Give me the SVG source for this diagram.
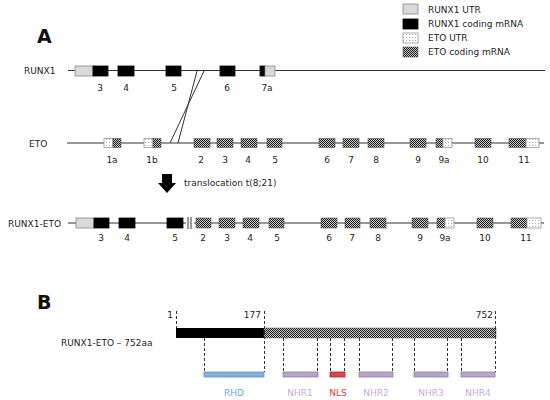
<svg xmlns="http://www.w3.org/2000/svg" width="550" height="400" viewBox="0 0 550 400">
<defs>
<pattern id="chk" width="2" height="2" patternUnits="userSpaceOnUse"><rect width="2" height="2" fill="#c8c8c8"/><rect width="1" height="1" fill="#1a1a1a"/><rect x="1" y="1" width="1" height="1" fill="#1a1a1a"/></pattern>
<pattern id="dot" width="3" height="3" patternUnits="userSpaceOnUse"><rect width="3" height="3" fill="#fff"/><rect x="1" y="1" width="1" height="1" fill="#aaa"/></pattern>
<style>
text{font-family:"DejaVu Sans","Verdana",sans-serif;font-size:9px;fill:#222}
.lbl{text-anchor:middle}
.big{font-size:19px;font-weight:bold;fill:#111}
.ln{stroke:#333;stroke-width:1;fill:none}
.utr{fill:#d9d9d9;stroke:#888;stroke-width:0.8}
.cod{fill:#000;stroke:#000;stroke-width:0.8}
.eu{fill:url(#dot);stroke:#999;stroke-width:0.8}
.ec{fill:url(#chk);stroke:#555;stroke-width:0.6}
.dash{stroke:#333;stroke-width:1;stroke-dasharray:3,2;fill:none}
</style>
</defs>
<rect width="550" height="400" fill="#fff"/>

<g id="legend">
<rect x="403" y="4" width="15" height="10" class="utr"/><text x="428" y="13">RUNX1 UTR</text>
<rect x="403" y="19" width="15" height="10" class="cod"/><text x="428" y="27">RUNX1 coding mRNA</text>
<rect x="403" y="33" width="15" height="10" class="eu"/><text x="428" y="41">ETO UTR</text>
<rect x="403" y="47" width="15" height="10" class="ec"/><text x="428" y="55">ETO coding mRNA</text>
</g>

<text x="37" y="43" class="big">A</text>
<text x="37" y="309" class="big">B</text>

<g id="runx1">
<text x="24" y="74">RUNX1</text>
<line x1="68" y1="70.5" x2="545" y2="70.5" class="ln"/>
<rect x="75" y="66" width="18" height="10" class="utr"/>
<rect x="93" y="66" width="15" height="10" class="cod"/>
<rect x="118" y="66" width="16" height="10" class="cod"/>
<rect x="166" y="66" width="15" height="10" class="cod"/>
<rect x="220" y="66" width="15" height="10" class="cod"/>
<rect x="260" y="66" width="5" height="10" class="cod"/>
<rect x="265" y="66" width="10" height="10" class="utr"/>
<text x="100" y="91" class="lbl">3</text>
<text x="126" y="91" class="lbl">4</text>
<text x="174" y="91" class="lbl">5</text>
<text x="227" y="91" class="lbl">6</text>
<text x="267" y="91" class="lbl">7a</text>
</g>

<g id="eto">
<text x="29" y="147">ETO</text>
<line x1="67" y1="143" x2="544" y2="143" class="ln"/>
<rect x="104" y="138.5" width="9" height="9" class="eu"/><rect x="113" y="138.5" width="8" height="9" class="ec"/>
<rect x="144" y="138.5" width="9" height="9" class="eu"/><rect x="153" y="138.5" width="8" height="9" class="ec"/>
<rect x="194" y="138.5" width="16" height="9" class="ec"/>
<rect x="217" y="138.5" width="16" height="9" class="ec"/>
<rect x="241" y="138.5" width="16" height="9" class="ec"/>
<rect x="267" y="138.5" width="15" height="9" class="ec"/>
<rect x="319" y="138.5" width="16" height="9" class="ec"/>
<rect x="343" y="138.5" width="16" height="9" class="ec"/>
<rect x="368" y="138.5" width="16" height="9" class="ec"/>
<rect x="410" y="138.5" width="16" height="9" class="ec"/>
<rect x="436" y="138.5" width="7" height="9" class="ec"/><rect x="443" y="138.5" width="9" height="9" class="eu"/>
<rect x="475" y="138.5" width="16" height="9" class="ec"/>
<rect x="509" y="138.5" width="17" height="9" class="ec"/><rect x="526" y="138.5" width="13" height="9" class="eu"/>
<text x="112" y="163" class="lbl">1a</text>
<text x="152" y="163" class="lbl">1b</text>
<text x="201" y="163" class="lbl">2</text>
<text x="225" y="163" class="lbl">3</text>
<text x="248" y="163" class="lbl">4</text>
<text x="275" y="163" class="lbl">5</text>
<text x="327" y="163" class="lbl">6</text>
<text x="351" y="163" class="lbl">7</text>
<text x="376" y="163" class="lbl">8</text>
<text x="418" y="163" class="lbl">9</text>
<text x="444" y="163" class="lbl">9a</text>
<text x="483" y="163" class="lbl">10</text>
<text x="524" y="163" class="lbl">11</text>
</g>

<g id="connectors">
<line x1="197" y1="71" x2="178" y2="143" class="ln"/>
<line x1="204" y1="71" x2="170" y2="143" class="ln"/>
</g>

<g id="translocation">
<polygon points="162,174 172,174 172,183 176,183 167,193 158,183 162,183" fill="#000"/>
<text x="184" y="186">translocation t(8;21)</text>
</g>

<g id="fusion">
<text x="8" y="227">RUNX1-ETO</text>
<line x1="68" y1="223" x2="544" y2="223" class="ln"/>
<rect x="76" y="218" width="18" height="10" class="utr"/>
<rect x="94" y="218" width="15" height="10" class="cod"/>
<rect x="119" y="218" width="16" height="10" class="cod"/>
<rect x="167" y="218" width="16" height="10" class="cod"/>
<rect x="186" y="218" width="8" height="10" fill="#fff"/>
<line x1="188" y1="217" x2="188" y2="229" class="ln"/>
<line x1="191" y1="217" x2="191" y2="229" class="ln"/>
<rect x="196" y="218" width="15" height="10" class="ec"/>
<rect x="219" y="218" width="16" height="10" class="ec"/>
<rect x="243" y="218" width="16" height="10" class="ec"/>
<rect x="269" y="218" width="15" height="10" class="ec"/>
<rect x="321" y="218" width="16" height="10" class="ec"/>
<rect x="345" y="218" width="15" height="10" class="ec"/>
<rect x="370" y="218" width="16" height="10" class="ec"/>
<rect x="412" y="218" width="16" height="10" class="ec"/>
<rect x="437" y="218" width="8" height="10" class="ec"/><rect x="445" y="218" width="9" height="10" class="eu"/>
<rect x="477" y="218" width="16" height="10" class="ec"/>
<rect x="511" y="218" width="16" height="10" class="ec"/><rect x="527" y="218" width="14" height="10" class="eu"/>
<text x="101" y="241" class="lbl">3</text>
<text x="127" y="241" class="lbl">4</text>
<text x="175" y="241" class="lbl">5</text>
<text x="203" y="241" class="lbl">2</text>
<text x="227" y="241" class="lbl">3</text>
<text x="250" y="241" class="lbl">4</text>
<text x="277" y="241" class="lbl">5</text>
<text x="329" y="241" class="lbl">6</text>
<text x="352" y="241" class="lbl">7</text>
<text x="378" y="241" class="lbl">8</text>
<text x="420" y="241" class="lbl">9</text>
<text x="445" y="241" class="lbl">9a</text>
<text x="485" y="241" class="lbl">10</text>
<text x="526" y="241" class="lbl">11</text>
</g>

<g id="protein">
<text x="61" y="346">RUNX1-ETO – 752aa</text>
<rect x="176" y="328" width="88" height="10" fill="#000"/>
<rect x="264" y="328" width="232" height="10" fill="url(#chk)" stroke="#555" stroke-width="0.5"/>
<text x="173" y="318" text-anchor="end">1</text>
<text x="261" y="318" text-anchor="end">177</text>
<text x="493" y="318" text-anchor="end">752</text>
<line x1="176.5" y1="311" x2="176.5" y2="328" class="dash"/>
<line x1="264.5" y1="311" x2="264.5" y2="372" class="dash"/>
<line x1="495.5" y1="311" x2="495.5" y2="372" class="dash"/>
<line x1="204.5" y1="338" x2="204.5" y2="372" class="dash"/>
<line x1="283.5" y1="338" x2="283.5" y2="372" class="dash"/>
<line x1="317.5" y1="338" x2="317.5" y2="372" class="dash"/>
<line x1="330.5" y1="338" x2="330.5" y2="372" class="dash"/>
<line x1="344.5" y1="338" x2="344.5" y2="372" class="dash"/>
<line x1="359.5" y1="338" x2="359.5" y2="372" class="dash"/>
<line x1="392.5" y1="338" x2="392.5" y2="372" class="dash"/>
<line x1="414.5" y1="338" x2="414.5" y2="372" class="dash"/>
<line x1="447.5" y1="338" x2="447.5" y2="372" class="dash"/>
<line x1="461.5" y1="338" x2="461.5" y2="372" class="dash"/>
</g>

<g id="domains">
<rect x="204" y="372" width="60" height="5" fill="#7eb2e2" stroke="#6a8fb0" stroke-width="0.8"/>
<rect x="283" y="372" width="35" height="5" fill="#b7a3cd" stroke="#8a809a" stroke-width="0.8"/>
<rect x="330" y="372" width="15" height="5" fill="#e04545" stroke="#a02a2a" stroke-width="0.8"/>
<rect x="359" y="372" width="34" height="5" fill="#b7a3cd" stroke="#8a809a" stroke-width="0.8"/>
<rect x="414" y="372" width="34" height="5" fill="#b7a3cd" stroke="#8a809a" stroke-width="0.8"/>
<rect x="461" y="372" width="34" height="5" fill="#b7a3cd" stroke="#8a809a" stroke-width="0.8"/>
<text x="234" y="396" class="lbl" style="fill:#6ea6dc">RHD</text>
<text x="300" y="396" class="lbl" style="fill:#c3acd9">NHR1</text>
<text x="338" y="396" class="lbl" style="fill:#e03a3a">NLS</text>
<text x="376" y="396" class="lbl" style="fill:#c3acd9">NHR2</text>
<text x="431" y="396" class="lbl" style="fill:#c3acd9">NHR3</text>
<text x="478" y="396" class="lbl" style="fill:#c3acd9">NHR4</text>
</g>
</svg>
